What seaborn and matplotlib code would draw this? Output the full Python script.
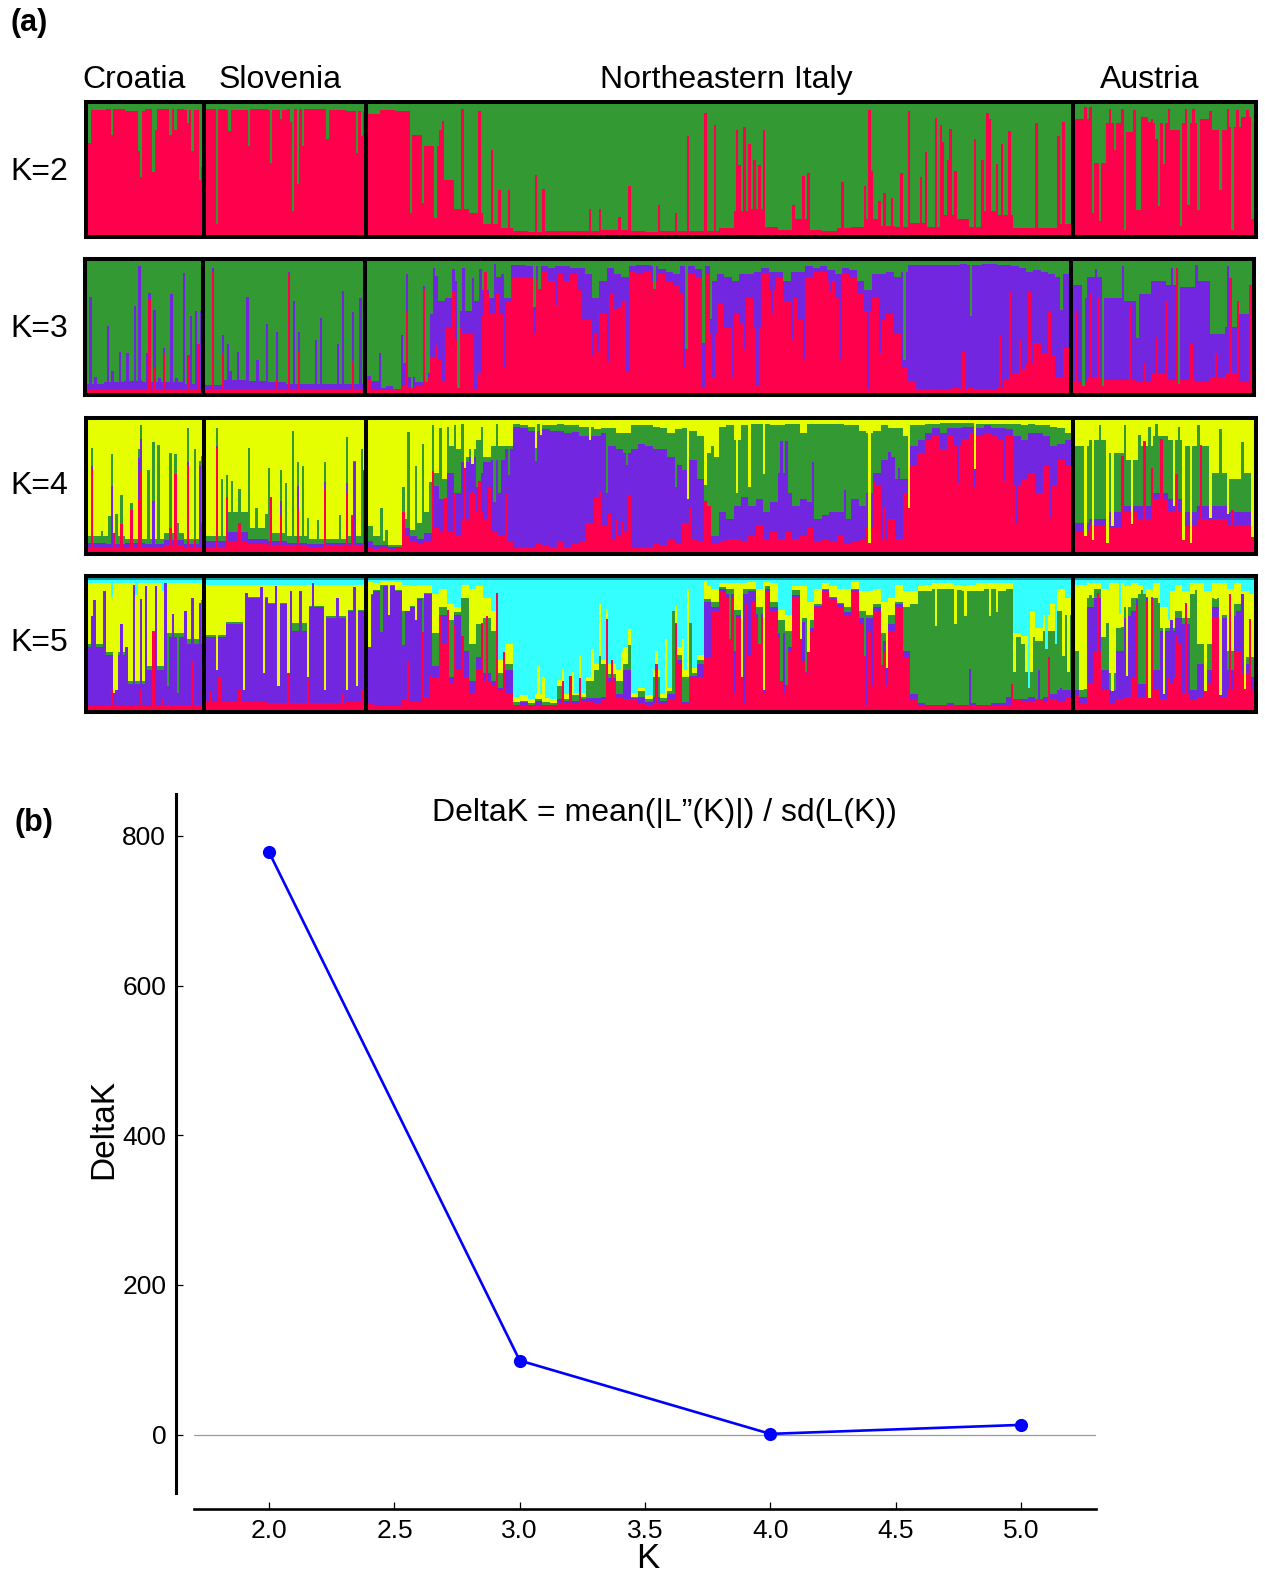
import numpy as np
import matplotlib
matplotlib.use('Agg')
import matplotlib.pyplot as plt
import seaborn as sns

W, H = 1265, 1575

regions = ['Croatia', 'Slovenia', 'Northeastern Italy', 'Austria']
region_sizes = [48, 66, 288, 75]  # individuals
dividers = [47.8, 113.8, 402]

RED, PURPLE, GREEN, YELLOW, CYAN, TEAL = '#ff004c', '#7326e0', '#339933', '#e6ff00', '#33ffff', '#0f9a9e'

# cluster boundaries in percent (base level + single individuals)
# K=2
k2_red = [95, 96, 94, 96, 96, 95,
          96, 95, 96, 95, 96, 96, 95, 94,
          92, 95, 94, 76, 68, 42, 20, 17, 8, 5, 3, 2, 3, 3, 3, 3, 4, 4, 3, 2, 3, 3, 3, 3,
          5, 18, 20, 6, 4, 12, 4, 3, 5, 6, 12, 7, 6, 9, 6, 15, 12, 6, 18, 15, 5, 5, 5, 8,
          88, 55, 85, 78, 90, 85, 80, 85, 88, 80, 82, 90]
k2_red_i = [1, 10, 22, 21, 27, 28, 34, 36, 43, 46, 47, 41,
            53, 58, 66, 75, 84, 86, 88, 98, 110, 112, 79, 83,
            153, 160, 165, 145, 144, 183, 186, 172, 168, 205, 209, 221, 217, 132, 142, 137,
            233, 240, 245, 252, 256, 265, 268, 270, 272, 276, 274, 266, 292, 294, 288, 308, 317, 319, 320,
            335, 346, 348, 352, 349, 354, 351, 362, 367, 368, 373, 376, 365, 371, 387, 398, 396, 342, 340, 332, 325, 328, 323,
            410, 413, 419, 423, 428, 429, 436, 437, 446, 449, 453, 462, 467, 475, 476, 439, 433,
            407, 409, 417, 422, 427, 434, 441, 448, 451, 458, 465, 469, 473]
k2_red_v = [70, 76, 44, 64, 48, 80, 76, 80, 64, 42, 52, 85,
            8, 79, 68, 55, 18, 39, 68, 73, 62, 75, 88, 86,
            96, 94, 65, 87, 80, 46, 35, 34, 34, 20, 20, 37, 14, 17, 13, 24,
            23, 17, 75, 93, 84, 80, 82, 69, 57, 80, 53, 53, 45, 47, 23, 40, 37, 95, 49,
            94, 89, 84, 81, 71, 49, 57, 73, 93, 88, 69, 79, 57, 54, 85, 86, 75, 63, 44, 47, 32, 28, 26,
            17, 11, 65, 4, 19, 19, 73, 22, 7, 23, 19, 34, 4, 12, 39, 54, 86,
            97, 97, 96, 96, 95, 88, 96, 96, 96, 94, 96, 95, 95]

# K=3
k3_red = [3, 3, 3, 3, 3, 3,
          3, 3, 3, 3, 3, 3, 3, 3,
          10, 2, 2, 2, 2, 5, 4, 5, 12, 27, 25, 50, 40, 45, 45, 15, 58, 60, 60, 70, 88, 88, 88, 86,
          92, 85, 90, 85, 90, 78, 55, 45, 60, 75, 65, 70, 92, 90, 92, 85, 90, 85, 82, 75, 90, 88, 90, 45,
          68, 50, 60, 52, 72, 50, 90, 78, 88, 70, 72, 55, 88, 92, 92, 85, 72, 90, 88, 75, 62, 72, 55, 60,
          45, 20, 8, 3, 3, 3, 2, 3, 4, 3, 4, 3, 3, 3, 4, 10, 15, 18, 22, 38, 30, 28, 12, 35,
          8, 12, 10, 10, 8, 15, 10, 10, 8, 12, 15, 8]
k3_red_i = [0, 26, 32, 42, 46, 28,
            52, 83, 56, 78, 87, 109,
            131, 138, 143, 150, 163, 153, 164, 168,
            146, 159, 171, 183, 203, 207, 209, 213, 221, 244, 252, 256, 216, 192,
            264, 274, 293, 308, 319, 324, 269, 280, 288, 304,
            385, 393, 377, 381, 373, 358,
            404, 410, 413, 426, 437, 441, 445, 451, 467, 470, 475, 461, 432]
k3_red_v = [40, 71, 30, 29, 37, 20,
            92, 91, 30, 10, 31, 24,
            62, 79, 36, 77, 92, 49, 75, 76,
            9, 3, 20, 45, 55, 29, 32, 24, 17, 20, 4, 12, 63, 67,
            11, 5, 25, 25, 3, 30, 33, 60, 41, 77,
            77, 62, 77, 40, 44, 31,
            62, 76, 72, 67, 42, 70, 95, 37, 87, 70, 82, 30, 22]
k3_purple = [7, 8, 9, 8, 8, 7,
             6, 10, 9, 8, 7, 7, 7, 7,
             13, 9, 4, 5, 3, 23, 12, 8, 15, 60, 70, 72, 85, 62, 62, 70, 78, 72, 88, 72, 97, 97, 96, 96,
             96, 95, 96, 96, 95, 95, 90, 72, 85, 95, 90, 88, 96, 97, 97, 96, 94, 92, 90, 96, 96, 94, 96, 85,
             90, 88, 85, 90, 90, 92, 95, 92, 92, 85, 92, 92, 96, 95, 96, 93, 90, 95, 93, 85, 78, 90, 90, 92,
             88, 92, 97, 97, 97, 97, 97, 97, 97, 98, 97, 97, 98, 98, 97, 97, 96, 95, 92, 93, 92, 90, 88, 90,
             82, 88, 72, 70, 75, 85, 82, 80, 85, 45, 50, 60]
k3_purple_i = [2, 9, 14, 17, 20, 22, 25, 26, 28, 32, 35, 40, 43, 45, 47, 4, 11, 30, 37,
               52, 56, 58, 62, 66, 70, 74, 78, 83, 85, 87, 96, 105, 109, 112, 94, 103, 59,
               131, 138, 129, 120, 142, 143, 150, 154, 158, 161, 167, 170,
               152, 183, 245, 252, 255, 232, 185, 139, 133,
               361, 334, 398,
               407, 415, 429, 446, 408, 453, 466, 423, 412, 443]
k3_purple_v = [73, 51, 31, 30, 66, 96, 30, 76, 63, 34, 75, 91, 58, 62, 62, 12, 17, 11, 11,
               95, 44, 37, 31, 73, 25, 52, 46, 92, 70, 46, 57, 77, 61, 72, 40, 37, 17,
               90, 81, 44, 30, 95, 89, 94, 95, 87, 94, 98, 90,
               4, 65, 33, 38, 56, 79, 79, 8, 4,
               58, 25, 63,
               5, 5, 42, 7, 72, 97, 96, 96, 94, 95]

# K=4
k4_red = [4, 4, 4, 4, 5, 4,
          4, 8, 6, 5, 5, 4, 5, 5,
          3, 2, 3, 2, 3, 12, 8, 6, 8, 18, 15, 15, 12, 25, 45, 30, 25, 15, 12, 8, 3, 4, 4, 6,
          5, 4, 8, 4, 6, 8, 22, 42, 20, 10, 12, 15, 3, 3, 4, 6, 5, 10, 6, 22, 10, 8, 35, 6,
          8, 10, 10, 8, 12, 20, 10, 15, 10, 15, 10, 12, 18, 8, 10, 8, 12, 6, 8, 10, 18, 50, 10, 25,
          10, 45, 65, 75, 85, 88, 78, 88, 80, 86, 90, 88, 90, 88, 85, 88, 50, 55, 60, 45, 65, 50, 70, 65,
          15, 20, 18, 30, 25, 40, 30, 20, 25, 25, 20, 20]
k4_red_i = [2, 22, 21, 36, 41, 44, 14, 18, 34, 47, 11,
            53, 57, 75, 97, 106, 108, 113, 86, 79, 62,
            141, 146, 150, 154, 157, 160, 164, 171, 209, 221, 246, 252, 129, 213, 216, 218,
            321, 325, 362, 355, 374, 379, 393,
            431, 438, 454, 422, 444, 434, 467]
k4_red_v = [62, 61, 40, 59, 65, 9, 21, 32, 18, 22, 14,
            79, 42, 42, 48, 44, 28, 62, 32, 27, 22,
            61, 41, 45, 64, 46, 54, 49, 44, 46, 43, 33, 39, 30, 29, 25, 23,
            54, 34, 49, 52, 54, 21, 26,
            84, 86, 81, 73, 59, 64, 32]
k4_purple = [7, 6, 7, 6, 9, 6,
             8, 15, 10, 8, 7, 6, 7, 7,
             8, 5, 5, 4, 4, 18, 12, 10, 14, 50, 40, 60, 45, 68, 72, 60, 68, 70, 70, 78, 95, 94, 92, 92,
             93, 92, 92, 90, 91, 88, 88, 88, 90, 80, 78, 75, 78, 82, 80, 78, 78, 72, 66, 62, 70, 55, 35, 12,
             30, 25, 35, 42, 35, 40, 30, 38, 60, 45, 35, 40, 38, 25, 28, 30, 30, 25, 40, 35, 45, 60, 70, 72,
             55, 55, 80, 85, 90, 94, 90, 94, 94, 95, 95, 94, 96, 94, 94, 93, 88, 85, 90, 90, 88, 80, 82, 85,
             22, 25, 30, 35, 35, 45, 40, 30, 35, 35, 30, 30]
k4_purple_i = [2, 10, 22, 21, 41, 46, 27,
               53, 79, 86, 97, 109, 106,
               183, 212, 172, 168, 166, 240, 220, 159, 160,
               283, 285, 296, 309, 327, 331]
k4_purple_v = [65, 50, 86, 71, 68, 65, 39,
               80, 39, 50, 53, 68, 52,
               69, 45, 58, 45, 38, 49, 66, 49, 4,
               84, 84, 68, 47, 76, 64]
k4_green = [12, 12, 10, 10, 14, 10,
            12, 30, 18, 14, 12, 10, 10, 12,
            20, 12, 8, 5, 5, 25, 17, 22, 30, 60, 55, 80, 78, 72, 78, 85, 72, 80, 80, 80, 97, 96, 95, 97,
            96, 96, 97, 96, 96, 95, 95, 93, 94, 94, 90, 90, 96, 96, 96, 95, 94, 90, 93, 94, 92, 88, 75, 72,
            95, 96, 85, 96, 97, 97, 97, 96, 96, 97, 97, 90, 97, 97, 97, 97, 97, 96, 96, 92, 90, 92, 96, 94,
            94, 88, 96, 96, 97, 97, 98, 98, 98, 98, 98, 97, 97, 97, 97, 97, 97, 96, 97, 96, 96, 95, 94, 90,
            80, 85, 75, 70, 80, 88, 85, 80, 80, 60, 55, 60]
k4_green_i = [2, 10, 9, 12, 14, 18, 21, 22, 25, 27, 29, 34, 36, 41, 44, 46, 47, 6, 37,
              53, 55, 57, 59, 62, 66, 74, 79, 81, 84, 86, 88, 90, 94, 97, 103, 106, 109, 112, 69, 73,
              131, 134, 137, 140, 129, 120, 122, 141, 144, 147, 150, 153, 161, 167,
              154, 157, 183, 185, 205, 245, 252, 255, 209,
              265, 270, 276, 319, 335, 362,
              407, 410, 416, 450, 447, 426, 418, 443, 475, 458, 465,
              413, 423, 433, 436, 445, 453, 462, 471, 476, 429]
k4_green_v = [79, 74, 27, 29, 43, 37, 78, 96, 62, 83, 81, 75, 74, 94, 78, 69, 73, 16, 22,
              94, 55, 58, 54, 48, 79, 64, 62, 52, 92, 68, 65, 26, 24, 68, 28, 87, 69, 78, 33, 29,
              91, 65, 82, 53, 49, 33, 17, 96, 94, 95, 96, 97, 95, 97,
              12, 67, 79, 89, 85, 40, 51, 80, 93,
              45, 49, 59, 7, 33, 63,
              12, 9, 7, 7, 9, 21, 20, 35, 11, 26, 29,
              96, 96, 95, 97, 95, 96, 93, 83, 81, 89]

# K=5
k5_red = [3, 3, 3, 3, 4, 4,
          6, 7, 6, 5, 5, 5, 5, 6,
          5, 3, 3, 3, 3, 8, 6, 6, 10, 25, 50, 20, 30, 25, 12, 30, 22, 18, 15, 12, 3, 3, 3, 4,
          3, 3, 5, 5, 5, 6, 6, 5, 8, 22, 10, 8, 8, 5, 4, 5, 5, 8, 35, 5, 25, 25, 40, 75,
          90, 85, 70, 80, 82, 70, 90, 75, 55, 45, 85, 65, 60, 78, 90, 84, 78, 72, 90, 65, 60, 75, 45, 60,
          78, 40, 8, 3, 3, 3, 3, 4, 3, 3, 4, 3, 3, 3, 3, 4, 8, 6, 6, 8, 6, 8, 6, 10,
          11, 5, 20, 45, 15, 5, 8, 10, 25, 10, 82, 15, 8, 25, 50, 12, 8, 10, 20, 70, 10, 15, 45, 28, 15]
k5_red_i = [27, 43, 10, 22, 0, 31,
            54, 50, 62, 82, 90, 104, 112,
            137, 131, 144, 147, 150, 153, 161, 163, 167, 170, 140,
            197, 201, 212, 214, 240, 232, 194,
            264, 268, 276, 284, 318, 320, 326, 270, 292, 293,
            377, 392,
            412, 434, 448, 466, 474, 428, 444]
k5_red_v = [60, 37, 15, 15, 43, 8,
            25, 14, 15, 28, 23, 13, 15,
            59, 36, 71, 76, 64, 56, 66, 71, 89, 44, 26,
            26, 24, 69, 38, 66, 35, 22,
            13, 5, 13, 12, 4, 19, 19, 41, 36, 27,
            20, 40,
            89, 84, 81, 88, 69, 79, 56]
k5_purple = [48, 42, 20, 30, 55, 50,
             55, 65, 85, 80, 60, 78, 70, 75,
             87, 90, 94, 94, 90, 75, 78, 84, 88, 33, 72, 25, 72, 45, 22, 40, 28, 22, 17, 30, 4, 6, 4, 7,
             4, 4, 8, 7, 7, 8, 9, 9, 10, 24, 12, 30, 9, 10, 6, 10, 7, 12, 38, 6, 26, 35, 82, 78,
             92, 88, 72, 88, 90, 73, 92, 78, 58, 48, 87, 67, 62, 79, 91, 85, 80, 74, 91, 70, 70, 78, 52, 65,
             80, 45, 12, 5, 4, 4, 4, 5, 4, 4, 5, 4, 4, 5, 5, 10, 8, 8, 10, 8, 10, 12, 15, 15,
             15, 10, 78, 85, 30, 15, 45, 70, 75, 20, 85, 30, 60, 60, 70, 65, 15, 35, 30, 78, 70, 30, 75, 35, 25]
k5_purple_i = [3, 2, 7, 19, 22, 24, 28, 32, 35, 40, 43, 46, 14, 16, 27, 33, 37,
               71, 77, 83, 87, 92, 102, 109, 65,
               129, 120, 137,
               262, 264, 274, 283, 285, 293, 317, 324, 388, 360, 397,
               409, 428, 459, 471, 468, 425, 442]
k5_purple_v = [83, 71, 90, 95, 84, 94, 94, 96, 73, 75, 85, 81, 65, 48, 25, 18, 13,
               93, 94, 90, 90, 96, 85, 93, 89,
               49, 59, 22,
               54, 45, 50, 22, 19, 29, 41, 34, 30, 31, 17,
               78, 84, 78, 88, 71, 71, 68]
k5_green = [50, 44, 22, 33, 58, 54,
            57, 67, 86, 81, 66, 79, 71, 76,
            88, 91, 95, 95, 91, 75, 79, 85, 89, 58, 78, 68, 74, 85, 50, 65, 70, 60, 28, 35, 6, 7, 5, 8,
            6, 5, 18, 8, 11, 10, 22, 30, 35, 27, 22, 35, 10, 14, 8, 25, 9, 14, 42, 25, 28, 38, 84, 82,
            93, 92, 76, 92, 92, 78, 94, 82, 68, 60, 91, 70, 68, 80, 92, 86, 81, 78, 92, 75, 72, 80, 58, 72,
            82, 78, 80, 90, 90, 92, 92, 92, 91, 90, 90, 90, 92, 92, 90, 92, 55, 50, 55, 52, 60, 60, 75, 72,
            45, 15, 85, 92, 55, 28, 62, 78, 85, 88, 86, 85, 62, 62, 75, 70, 88, 50, 50, 85, 72, 45, 80, 40, 40]
k5_green_i = [47, 11, 12,
              53, 64, 72, 78, 82, 90, 97, 106, 110,
              115, 123, 134, 239, 246, 221, 209,
              267, 276, 294, 291, 326, 346, 354, 358, 368, 371, 378, 385, 383, 398, 400,
              409, 430, 437, 452, 460, 416, 422,
              407, 418, 424, 433, 439, 442, 456, 462, 472]
k5_green_v = [83, 13, 15,
              30, 15, 28, 18, 20, 25, 15, 15, 18,
              48, 72, 68, 75, 66, 49, 41,
              25, 15, 44, 54, 32, 64, 65, 71, 71, 74, 29, 29, 29, 41, 29,
              87, 91, 81, 91, 84, 66, 63,
              16, 14, 26, 9, 12, 20, 14, 11, 16]
k5_yellow = [96, 96, 96, 96, 96, 96,
             95, 95, 95, 95, 95, 95, 95, 95,
             97, 96, 98, 98, 97, 95, 94, 95, 95, 88, 92, 80, 78, 95, 92, 94, 85, 75, 38, 50, 10, 11, 8, 12,
             9, 8, 23, 12, 13, 13, 25, 35, 38, 35, 30, 48, 13, 17, 11, 30, 12, 17, 48, 30, 32, 42, 94, 92,
             96, 96, 96, 96, 97, 92, 97, 96, 76, 72, 94, 94, 82, 92, 96, 94, 92, 92, 97, 90, 90, 92, 82, 85,
             95, 90, 90, 94, 95, 96, 96, 96, 95, 94, 95, 96, 96, 96, 96, 96, 58, 56, 75, 62, 72, 80, 92, 85,
             95, 95, 96, 96, 92, 96, 96, 94, 96, 95, 92, 96, 78, 90, 95, 90, 96, 96, 90, 96, 96, 92, 96, 90, 88]
k5_yellow_i = [10, 20, 31,
               184, 186, 206, 201, 194, 198, 218, 221, 232, 236, 240, 243, 245, 252, 209, 212,
               384, 391, 395,
               421, 441, 431]
k5_yellow_v = [86, 87, 90,
               33, 25, 46, 41, 31, 29, 44, 61, 45, 54, 79, 54, 91, 98, 80, 76,
               17, 46, 50,
               73, 68, 88]
k5_cyan_top = [97] * 74

# panel (b)
k_values = [2, 3, 4, 5]
delta_k = [778, 99, 1, 13]


def expand(base):
    # Italy and Austria are read at different detail depending on the panel
    blocks_by_len = {74: (6, 8, 48, 12), 122: (6, 8, 96, 12), 135: (6, 8, 96, 25)}
    out, pos = [], 0
    for size, blocks in zip(region_sizes, blocks_by_len[len(base)]):
        part = base[pos:pos + blocks]
        counts = [len(c) for c in np.array_split(np.arange(size), blocks)]
        out.append(np.repeat(part, counts))
        pos += blocks
    return np.concatenate(out).astype(float)


def build_layers(layers):
    # layers go bottom to top: (base, individuals, values)
    arrs = [expand(b) for b, _, _ in layers]
    for n in range(len(layers) - 1, -1, -1):
        for i, v in zip(layers[n][1], layers[n][2]):
            if v < arrs[n][i]:
                # a notch shows the cluster above, so everything below has to drop too
                for m in range(n):
                    arrs[m][i] = min(arrs[m][i], v)
            arrs[n][i] = v
    return arrs


def draw_panel(rect, layers, colors, top_color, cap=None):
    l, t, r, b = rect
    ax = fig.add_axes([l / W, 1 - b / H, (r - l) / W, (b - t) / H])
    n = sum(region_sizes)
    xs = np.arange(n)
    sns.barplot(x=xs, y=np.full(n, 100.0), color=top_color, width=1, saturation=1,
                linewidth=0, errorbar=None, ax=ax)
    if cap is not None:
        # dark strip along the top of K=5
        sns.barplot(x=xs, y=np.full(n, 100.0 - cap), bottom=cap, color=TEAL, width=1, saturation=1,
                    linewidth=0, errorbar=None, ax=ax)
    keep_soft = len(ax.patches)
    arrs = build_layers(layers)
    # the frame eats a bit of the plot, values were read inside of it
    for arr, c in zip(arrs[::-1], colors[::-1]):
        sns.barplot(x=xs, y=arr * 0.97 + 1.5, color=c, width=1, saturation=1,
                    linewidth=0, errorbar=None, ax=ax)
    for p in ax.patches[keep_soft if cap is not None else 0:]:
        p.set_antialiased(False)
    ax.set_xlim(-0.5, n - 0.5)
    ax.set_ylim(0, 100)
    ax.set_xticks([])
    ax.set_yticks([])
    ax.set_xlabel('')
    ax.set_ylabel('')
    for s in ax.spines.values():
        s.set_visible(True)
        s.set_color('black')
        s.set_linewidth(2.9)
    for d in dividers:
        ax.axvline(d, color='black', lw=2.9)
    return ax


def label(x, y, s, **kw):
    fig.text(x / W, 1 - y / H, s, va='center', color='black', **kw)


sns.set_theme(style='ticks')
plt.rcParams['font.family'] = ['Liberation Sans', 'DejaVu Sans']

fig = plt.figure(figsize=(W / 100, H / 100), dpi=100, facecolor='white')

draw_panel((86, 101.5, 1256, 237), [(k2_red, k2_red_i, k2_red_v)], [RED], GREEN)
draw_panel((84.5, 259, 1254, 395), [(k3_red, k3_red_i, k3_red_v), (k3_purple, k3_purple_i, k3_purple_v)],
           [RED, PURPLE], GREEN)
draw_panel((86, 418, 1256, 554), [(k4_red, k4_red_i, k4_red_v), (k4_purple, k4_purple_i, k4_purple_v),
                                  (k4_green, k4_green_i, k4_green_v)],
           [RED, PURPLE, GREEN], YELLOW)
draw_panel((86, 576, 1256, 712), [(k5_red, k5_red_i, k5_red_v), (k5_purple, k5_purple_i, k5_purple_v),
                                  (k5_green, k5_green_i, k5_green_v), (k5_yellow, k5_yellow_i, k5_yellow_v)],
           [RED, PURPLE, GREEN, YELLOW], CYAN, cap=k5_cyan_top[0])

# labels of panel (a)
label(10, 23, '(a)', fontsize=22, fontweight='bold')
for name, cx in zip(regions, [134, 280, 726, 1150]):
    label(cx, 80, name, fontsize=23, ha='center')
for name, cy in zip(['K=2', 'K=3', 'K=4', 'K=5'], [172, 329, 486, 643]):
    label(10, cy, name, fontsize=23)

# panel (b)
ax = fig.add_axes([194 / W, 1 - 1493 / H, (1096 - 194) / W, (1493 - 794) / H])
ax.axhline(0, color='#999999', lw=0.9, zorder=1)
sns.lineplot(x=k_values, y=delta_k, color='#0000ff', marker='o', markersize=9.5,
             markeredgewidth=0, linewidth=1.9, errorbar=None, ax=ax)
ax.set_xlim(1.70, 5.30)
ax.set_ylim(-78, 856)
ax.set_xticks([2, 2.5, 3, 3.5, 4, 4.5, 5])
ax.set_yticks([0, 200, 400, 600, 800])
ax.tick_params(direction='in', length=5, width=0.9, labelsize=19, colors='black', pad=7)
sns.despine(ax=ax, offset={'left': 13, 'bottom': 11.5})
ax.spines['left'].set_linewidth(2.2)
ax.spines['bottom'].set_linewidth(1.9)
ax.spines['left'].set_color('black')
ax.spines['bottom'].set_color('black')

label(14, 823, '(b)', fontsize=22, fontweight='bold')
label(664, 813, 'DeltaK = mean(|L”(K)|) / sd(L(K))', fontsize=23, ha='center')
label(648, 1559, 'K', fontsize=25, ha='center')
label(104, 1129, 'DeltaK', fontsize=24, ha='center', rotation=90)

fig.savefig('out.png', dpi=100)
